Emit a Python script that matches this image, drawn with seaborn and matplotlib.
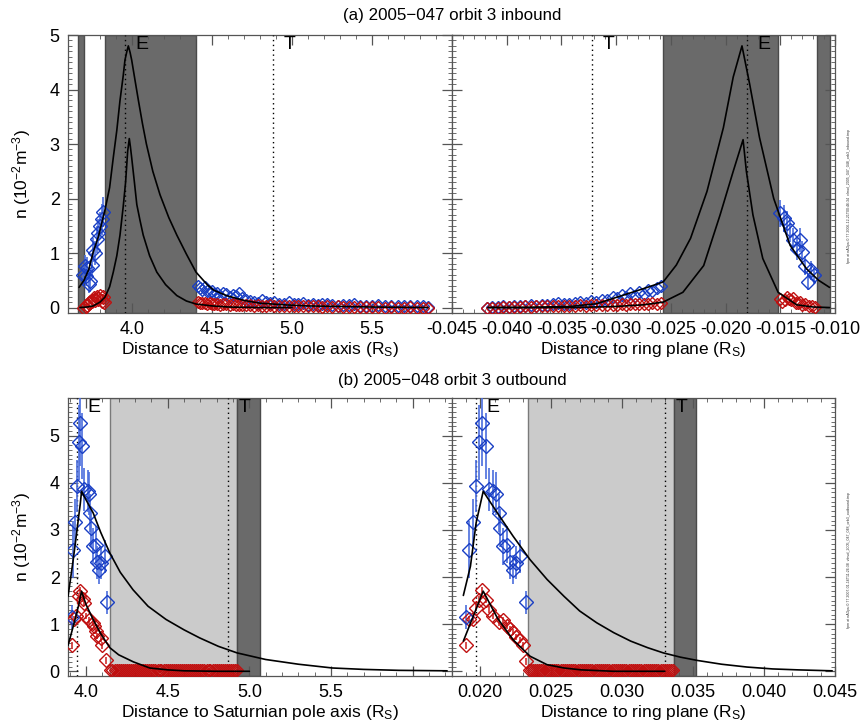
import matplotlib
matplotlib.use("Agg")
import matplotlib.pyplot as plt
import seaborn as sns
from matplotlib.ticker import MultipleLocator, FormatStrFormatter

# ---------------- data ----------------
# (a) inbound, distance to pole axis
tl_blue_x1 = [3.696, 3.706, 3.712, 3.717, 3.733, 3.737, 3.748, 3.758, 3.770, 3.779, 3.790, 3.800, 3.810, 3.820]
tl_blue_y1 = [0.59, 0.77, 0.57, 0.72, 0.44, 0.49, 0.78, 1.06, 1.00, 1.25, 1.37, 1.50, 1.62, 1.75]
tl_blue_e1 = [0.20, 0.20, 0.18, 0.20, 0.18, 0.20, 0.22, 0.22, 0.22, 0.25, 0.25, 0.25, 0.28, 0.28]
tl_red_x1 = [3.700, 3.710, 3.720, 3.730, 3.740, 3.750, 3.760, 3.770, 3.780, 3.790, 3.800, 3.810, 3.820, 3.828]
tl_red_y1 = [0.00, 0.03, 0.05, 0.08, 0.10, 0.12, 0.17, 0.14, 0.20, 0.15, 0.22, 0.12, 0.20, 0.10]
tl_blue_x2 = [4.410, 4.425, 4.440, 4.455, 4.470, 4.485, 4.500, 4.515, 4.530, 4.550, 4.570,
              4.590, 4.610, 4.630, 4.650, 4.670, 4.690, 4.715, 4.740, 4.765, 4.790, 4.815,
              4.840, 4.865, 4.890, 4.920, 4.950, 4.980, 5.010, 5.040, 5.070, 5.100, 5.130,
              5.160, 5.190, 5.220, 5.250, 5.285, 5.320, 5.355, 5.390, 5.425, 5.460, 5.500,
              5.540, 5.580, 5.620, 5.660, 5.700, 5.740, 5.780, 5.820, 5.850]
tl_blue_y2 = [0.40, 0.35, 0.33, 0.37, 0.30, 0.28, 0.31, 0.25, 0.27, 0.22, 0.26, 0.24,
              0.20, 0.23, 0.21, 0.26, 0.18, 0.14, 0.12, 0.11, 0.09, 0.13, 0.10, 0.09,
              0.11, 0.07, 0.06, 0.10, 0.07, 0.06, 0.09, 0.05, 0.06, 0.04, 0.06, 0.07,
              0.04, 0.03, 0.05, 0.04, 0.06, 0.03, 0.03, 0.02, 0.04, 0.02, 0.03, 0.03,
              0.02, 0.03, 0.02, 0.02, 0.01]
tl_red_y2 = [0.10, 0.09, 0.08, 0.09, 0.07, 0.08, 0.07, 0.06, 0.07, 0.05, 0.06, 0.06,
             0.05, 0.06, 0.05, 0.04, 0.05, 0.04, 0.04, 0.03, 0.04, 0.03, 0.03, 0.04,
             0.03, 0.03, 0.02, 0.03, 0.02, 0.03, 0.02, 0.02, 0.02, 0.02, 0.01, 0.02,
             0.01, 0.02, 0.01, 0.01, 0.01, 0.01, 0.01, 0.01, 0.01, 0.00, 0.01, 0.00,
             0.00, 0.01, 0.00, 0.00, 0.00]
tl_fit1_x = [3.669, 3.70, 3.73, 3.758, 3.79, 3.831, 3.86, 3.883, 3.905, 3.925, 3.945, 3.956,
             3.968, 3.977, 3.988, 3.998, 4.02, 4.04, 4.065, 4.09, 4.13, 4.175, 4.23, 4.28,
             4.34, 4.40, 4.47, 4.51, 4.59, 4.70, 4.80, 4.95, 5.10, 5.30, 5.50, 5.85]
tl_fit1_y = [0.37, 0.50, 0.70, 1.02, 1.30, 1.79, 2.20, 2.75, 3.25, 3.80, 4.25, 4.54,
             4.70, 4.80, 4.68, 4.54, 4.15, 3.80, 3.38, 3.00, 2.50, 2.07, 1.65, 1.33,
             0.98, 0.65, 0.42, 0.32, 0.22, 0.13, 0.08, 0.05, 0.03, 0.02, 0.01, 0.00]
tl_fit2_x = [3.675, 3.72, 3.758, 3.80, 3.831, 3.86, 3.883, 3.905, 3.925, 3.945, 3.960,
             3.973, 3.983, 3.990, 3.998, 4.015, 4.03, 4.05, 4.07, 4.11, 4.155, 4.21,
             4.28, 4.34, 4.40, 4.50, 4.60, 4.80, 5.00]
tl_fit2_y = [0.00, 0.01, 0.03, 0.10, 0.19, 0.38, 0.65, 0.95, 1.33, 1.85, 2.30,
             2.87, 3.10, 2.95, 2.75, 2.30, 1.89, 1.60, 1.33, 0.95, 0.65, 0.42,
             0.22, 0.12, 0.065, 0.03, 0.01, 0.00, 0.00]

# (a) inbound, distance to ring plane
tr_blue_x1 = [-0.0418, -0.0413, -0.0408, -0.0403, -0.0398, -0.0393, -0.0388, -0.0383,
              -0.0378, -0.0373, -0.0368, -0.0363, -0.0358, -0.0353, -0.0348, -0.0343,
              -0.0338, -0.0333, -0.0328, -0.0323, -0.0318, -0.0313, -0.0308, -0.0303,
              -0.0299, -0.0295, -0.0291, -0.0287, -0.0283, -0.0279, -0.0275, -0.0271,
              -0.0267, -0.0263, -0.0259]
tr_blue_y1 = [0.00, 0.01, 0.01, 0.02, 0.01, 0.02, 0.03, 0.02, 0.04, 0.03, 0.05, 0.04,
              0.06, 0.08, 0.06, 0.07, 0.09, 0.11, 0.08, 0.12, 0.10, 0.14, 0.13, 0.19,
              0.17, 0.23, 0.20, 0.26, 0.22, 0.29, 0.25, 0.33, 0.30, 0.36, 0.40]
tr_red_y1 = [0.00, 0.00, 0.00, 0.01, 0.01, 0.01, 0.01, 0.02, 0.01, 0.02, 0.02, 0.02,
             0.03, 0.02, 0.03, 0.03, 0.03, 0.04, 0.03, 0.04, 0.04, 0.05, 0.04, 0.05,
             0.05, 0.06, 0.05, 0.06, 0.06, 0.07, 0.06, 0.07, 0.08, 0.07, 0.08]
tr_blue_x2 = [-0.0150, -0.0147, -0.0144, -0.0141, -0.0138, -0.0135, -0.0132, -0.0130,
              -0.0127, -0.0125, -0.0122, -0.0119]
tr_blue_y2 = [1.73, 1.64, 1.55, 1.42, 1.24, 1.08, 1.24, 1.02, 0.77, 0.47, 0.68, 0.59]
tr_blue_e2 = [0.25, 0.25, 0.22, 0.22, 0.22, 0.20, 0.22, 0.20, 0.18, 0.15, 0.18, 0.15]
tr_red_x2 = [-0.0150, -0.0148, -0.0146, -0.0144, -0.0142, -0.0140, -0.0138, -0.0136,
             -0.0134, -0.0132, -0.0130, -0.0127, -0.0124, -0.0121, -0.0118]
tr_red_y2 = [0.15, 0.10, 0.13, 0.20, 0.16, 0.13, 0.18, 0.09, 0.08, 0.10, 0.05, 0.06,
             0.03, 0.02, 0.01]
tr_fit1_x = [-0.0417, -0.0379, -0.0342, -0.0318, -0.0293, -0.0270, -0.0257, -0.0245,
             -0.0232, -0.0217, -0.0202, -0.0193, -0.0185, -0.0178, -0.0169, -0.0156,
             -0.0141, -0.0126, -0.0115, -0.0105]
tr_fit1_y = [0.00, 0.005, 0.02, 0.07, 0.23, 0.38, 0.47, 0.78, 1.27, 2.13, 3.30, 4.23,
             4.80, 4.10, 3.12, 2.00, 1.14, 0.71, 0.50, 0.37]
tr_fit2_x = [-0.0417, -0.0340, -0.0300, -0.0275, -0.0257, -0.0239, -0.0220, -0.0205,
             -0.0193, -0.0184, -0.0181, -0.0175, -0.0166, -0.0152, -0.0135, -0.0120, -0.0105]
tr_fit2_y = [0.00, 0.00, 0.02, 0.05, 0.10, 0.28, 0.77, 1.70, 2.50, 3.08, 2.50, 1.70,
             0.90, 0.28, 0.05, 0.01, 0.00]

# (b) outbound, distance to pole axis
bl_blue_x = [3.912, 3.922, 3.935, 3.947, 3.955, 3.963, 3.978, 3.990, 4.010, 4.020,
             4.025, 4.030, 4.040, 4.060, 4.070, 4.080, 4.095, 4.115, 4.130]
bl_red_x = [3.912, 3.925, 3.940, 3.955, 3.965, 3.980, 3.990, 4.000, 4.020, 4.040,
            4.050, 4.060, 4.070, 4.090, 4.100, 4.120]
bl_red_y = [0.55, 1.11, 1.17, 1.59, 1.71, 1.54, 1.45, 1.17, 1.08, 1.03, 0.96, 0.86,
            0.75, 0.70, 0.55, 0.23]
bl_row_x = [4.150, 4.162, 4.175, 4.188, 4.200, 4.212, 4.225, 4.238, 4.250, 4.262, 4.275,
            4.288, 4.300, 4.312, 4.325, 4.338, 4.350, 4.362, 4.375, 4.388, 4.400, 4.412,
            4.425, 4.438, 4.450, 4.462, 4.475, 4.488, 4.500, 4.512, 4.525, 4.538, 4.550,
            4.562, 4.575, 4.588, 4.600, 4.612, 4.625, 4.638, 4.650, 4.662, 4.675, 4.688,
            4.700, 4.712, 4.725, 4.738, 4.750, 4.762, 4.775, 4.788, 4.800, 4.812, 4.825,
            4.838, 4.850, 4.862, 4.875, 4.888, 4.900, 4.912, 4.925]
bl_fit1_x = [3.89, 3.905, 3.922, 3.938, 3.953, 3.965, 3.973, 4.00, 4.044, 4.09, 4.146, 4.21,
             4.288, 4.38, 4.49, 4.60, 4.695, 4.81, 4.925, 5.10, 5.30, 5.508, 5.70, 5.914, 6.21]
bl_fit1_y = [1.59, 1.95, 2.37, 2.80, 3.22, 3.55, 3.82, 3.64, 3.36, 2.95, 2.51, 2.10,
             1.73, 1.38, 1.10, 0.88, 0.71, 0.53, 0.39, 0.25, 0.15, 0.07, 0.04, 0.02, 0.01]
bl_fit2_x = [3.89, 3.91, 3.933, 3.955, 3.973, 4.00, 4.044, 4.09, 4.146, 4.20, 4.29, 4.39,
             4.50, 4.60, 4.80, 5.00]
bl_fit2_y = [0.55, 0.80, 1.10, 1.40, 1.70, 1.42, 1.10, 0.80, 0.50, 0.35, 0.20, 0.07,
             0.03, 0.01, 0.00, 0.00]

# (b) outbound, distance to ring plane
br_blue_x = [0.0190, 0.0192, 0.0195, 0.0197, 0.0199, 0.0201, 0.0204, 0.0206, 0.0209,
             0.0211, 0.0213, 0.0214, 0.0216, 0.0219, 0.0221, 0.0223, 0.0225, 0.0228, 0.0232]
b_blue_y = [1.15, 2.58, 3.16, 3.94, 4.86, 5.26, 4.78, 3.86, 3.82, 3.77, 3.36, 3.04,
            2.65, 2.69, 2.31, 2.16, 2.30, 2.44, 1.46]
b_blue_e = [0.25, 0.60, 0.50, 0.55, 0.80, 0.90, 0.70, 0.45, 0.45, 0.45, 0.40, 0.40,
            0.40, 0.40, 0.35, 0.30, 0.35, 0.35, 0.25]
br_red_x = [0.0190, 0.0192, 0.0195, 0.0197, 0.0199, 0.0201, 0.0204, 0.0206, 0.0209,
            0.0213, 0.0216, 0.0219, 0.0221, 0.0223, 0.0225, 0.0228, 0.0230, 0.0232]
br_red_y = [0.55, 1.11, 1.10, 1.35, 1.52, 1.72, 1.52, 1.31, 1.17, 1.04, 1.08, 0.96,
            0.90, 0.83, 0.73, 0.66, 0.55, 0.21]
br_row_x = [0.02340, 0.02355, 0.02370, 0.02385, 0.02400, 0.02415, 0.02430, 0.02445,
            0.02460, 0.02475, 0.02490, 0.02505, 0.02520, 0.02535, 0.02550, 0.02565,
            0.02580, 0.02595, 0.02610, 0.02625, 0.02640, 0.02655, 0.02670, 0.02685,
            0.02700, 0.02715, 0.02730, 0.02745, 0.02760, 0.02775, 0.02790, 0.02805,
            0.02820, 0.02835, 0.02850, 0.02865, 0.02880, 0.02895, 0.02910, 0.02925,
            0.02940, 0.02955, 0.02970, 0.02985, 0.03000, 0.03015, 0.03030, 0.03045,
            0.03060, 0.03075, 0.03090, 0.03105, 0.03120, 0.03135, 0.03150, 0.03165,
            0.03180, 0.03195, 0.03210, 0.03225, 0.03240, 0.03255, 0.03270, 0.03285,
            0.03300, 0.03315, 0.03330, 0.03345, 0.03360]
br_fit1_x = [0.0188, 0.0193, 0.0197, 0.0202, 0.0212, 0.0223, 0.0235, 0.0247, 0.0259,
             0.0270, 0.0282, 0.0294, 0.0306, 0.0318, 0.0329, 0.0341, 0.0353, 0.0370,
             0.0388, 0.0406, 0.0424, 0.0448]
br_fit1_y = [1.61, 2.23, 3.15, 3.82, 3.36, 2.87, 2.37, 1.95, 1.59, 1.28, 1.03, 0.82,
             0.64, 0.50, 0.39, 0.30, 0.23, 0.15, 0.09, 0.05, 0.03, 0.01]
br_fit2_x = [0.0188, 0.0195, 0.0202, 0.0212, 0.0223, 0.0235, 0.0247, 0.0259, 0.0271,
             0.0294, 0.0330]
br_fit2_y = [0.64, 1.17, 1.70, 1.13, 0.67, 0.32, 0.14, 0.07, 0.03, 0.00, 0.00]

# shaded intervals and E / T crossings
tl_dark = [(3.664, 3.700), (3.831, 4.400)]
tr_dark = [(-0.0257, -0.0152), (-0.0116, -0.0105)]
bl_light, bl_dark = [(4.146, 4.927)], [(4.927, 5.067)]
br_light, br_dark = [(0.02337, 0.03363)], [(0.03363, 0.03519)]
tl_marks = {"E": 3.956, "T": 4.880}
tr_marks = {"T": -0.0322, "E": -0.0180}
bl_marks = {"E": 3.945, "T": 4.870}
br_marks = {"E": 0.0197, "T": 0.0330}

# ---------------- style ----------------
sns.set_theme(style="ticks")
plt.rcParams['font.family'] = ['Liberation Sans', 'DejaVu Sans']
plt.rcParams['mathtext.default'] = 'regular'
plt.rcParams['axes.linewidth'] = 0.9
plt.rcParams['axes.edgecolor'] = '#555555'
plt.rcParams['text.color'] = 'black'
plt.rcParams['axes.labelcolor'] = 'black'

BLUE, BLUE_E = '#1a3fc4', '#4a6ddd'
RED, RED_E = '#c01010', '#d03030'
DARK, LIGHT = '#6a6a6a', '#cbcbcb'
FS_TICK = 13
FS_LAB = 12.5

fig = plt.figure(figsize=(8.64, 7.27), dpi=100)
W, H = 864, 727


def box(x0, x1, ytop, ybot):
    return [x0 / W, 1 - ybot / H, (x1 - x0) / W, (ybot - ytop) / H]


ax_tl = fig.add_axes(box(68, 452, 35, 313))
ax_tr = fig.add_axes(box(452, 835, 35, 313))
ax_bl = fig.add_axes(box(68, 452, 398, 676))
ax_br = fig.add_axes(box(452, 835, 398, 676))


def points(ax, x, y, color, ecolor, err=None, ms=7):
    ax.errorbar(x, y, yerr=err, fmt='D', ms=ms, mfc='none', mec=color, mew=1.0,
                ecolor=ecolor, elinewidth=1.2, capsize=0, zorder=4)


def fit(ax, x, y):
    sns.lineplot(x=x, y=y, ax=ax, color='black', lw=1.2, estimator=None,
                 sort=False, zorder=5)


def bands(ax, spans, color, edge):
    for a, b in spans:
        ax.axvspan(a, b, facecolor=color, edgecolor=edge, lw=1.0, zorder=0)


def marks(ax, m):
    for lab, xv in m.items():
        ax.axvline(xv, color='black', ls=(0, (1, 2.5)), lw=1.0, zorder=3)
        ax.annotate(lab, (xv, 1.0), xycoords=('data', 'axes fraction'),
                    xytext=(12, -1), textcoords='offset points', color='black',
                    ha='center', va='top', fontsize=FS_TICK + 1, zorder=6)


def frame(ax, xlim, ylim, xticks, fmt, xminor, ylab):
    ax.set_xlim(*xlim)
    ax.set_ylim(*ylim)
    ax.set_xticks(xticks)
    ax.xaxis.set_major_formatter(FormatStrFormatter(fmt))
    ax.xaxis.set_minor_locator(MultipleLocator(xminor))
    ax.set_yticks([0, 1, 2, 3, 4, 5])
    ax.yaxis.set_minor_locator(MultipleLocator(0.1))
    ax.tick_params(which='both', direction='in', top=True, right=True,
                   labelsize=FS_TICK, colors='#555555', labelcolor='black', pad=6)
    ax.tick_params(which='major', length=7, width=0.9)
    ax.tick_params(which='minor', length=3, width=0.6)
    if not ylab:
        ax.tick_params(labelleft=False)
    ax.set_xlabel("")
    ax.set_ylabel("")


# ---- (a) left ----
bands(ax_tl, tl_dark, DARK, '#4a4a4a')
marks(ax_tl, tl_marks)
points(ax_tl, tl_red_x1, tl_red_y1, RED, RED_E, [0.04] * len(tl_red_x1))
points(ax_tl, tl_blue_x1, tl_blue_y1, BLUE, BLUE_E, tl_blue_e1)
points(ax_tl, tl_blue_x2, tl_blue_y2, BLUE, BLUE_E, ms=6)
points(ax_tl, tl_blue_x2, tl_red_y2, RED, RED_E, ms=6)
fit(ax_tl, tl_fit1_x, tl_fit1_y)
fit(ax_tl, tl_fit2_x, tl_fit2_y)
frame(ax_tl, (3.6, 6.0), (-0.1, 5.0), [4.0, 4.5, 5.0, 5.5], '%.1f', 0.1, True)

# ---- (a) right ----
bands(ax_tr, tr_dark, DARK, '#4a4a4a')
marks(ax_tr, tr_marks)
points(ax_tr, tr_blue_x1, tr_blue_y1, BLUE, BLUE_E, ms=6)
points(ax_tr, tr_blue_x1, tr_red_y1, RED, RED_E, ms=6)
points(ax_tr, tr_red_x2, tr_red_y2, RED, RED_E, ms=6.5)
points(ax_tr, tr_blue_x2, tr_blue_y2, BLUE, BLUE_E, tr_blue_e2)
fit(ax_tr, tr_fit1_x, tr_fit1_y)
fit(ax_tr, tr_fit2_x, tr_fit2_y)
frame(ax_tr, (-0.045, -0.010), (-0.1, 5.0),
      [-0.045, -0.040, -0.035, -0.030, -0.025, -0.020, -0.015, -0.010], '%.3f', 0.001, False)

# ---- (b) left ----
bands(ax_bl, bl_light, LIGHT, '#7a7a7a')
bands(ax_bl, bl_dark, DARK, '#4a4a4a')
marks(ax_bl, bl_marks)
points(ax_bl, bl_row_x, [0.02] * len(bl_row_x), RED, RED_E, ms=6)
points(ax_bl, bl_red_x, bl_red_y, RED, RED_E, [0.07] * len(bl_red_x))
points(ax_bl, bl_blue_x, b_blue_y, BLUE, BLUE_E, b_blue_e)
fit(ax_bl, bl_fit1_x, bl_fit1_y)
fit(ax_bl, bl_fit2_x, bl_fit2_y)
frame(ax_bl, (3.89, 6.24), (-0.1, 5.8), [4.0, 4.5, 5.0, 5.5, 6.0], '%.1f', 0.1, True)
ax_bl.set_xticklabels(['4.0', '4.5', '5.0', '5.5', ''])

# ---- (b) right ----
bands(ax_br, br_light, LIGHT, '#7a7a7a')
bands(ax_br, br_dark, DARK, '#4a4a4a')
marks(ax_br, br_marks)
points(ax_br, br_row_x, [0.02] * len(br_row_x), RED, RED_E, ms=6)
points(ax_br, br_red_x, br_red_y, RED, RED_E, [0.07] * len(br_red_x))
points(ax_br, br_blue_x, b_blue_y, BLUE, BLUE_E, b_blue_e)
fit(ax_br, br_fit1_x, br_fit1_y)
fit(ax_br, br_fit2_x, br_fit2_y)
frame(ax_br, (0.018, 0.045), (-0.1, 5.8),
      [0.020, 0.025, 0.030, 0.035, 0.040, 0.045], '%.3f', 0.001, False)

# ---- labels ----
for ax in (ax_tl, ax_bl):
    ax.set_xlabel(r"Distance to Saturnian pole axis (R$_S$)", fontsize=FS_LAB, labelpad=1)
    ax.set_ylabel(r"n (10$^{-2}$m$^{-3}$)", fontsize=FS_LAB, labelpad=12)
for ax in (ax_tr, ax_br):
    ax.set_xlabel(r"Distance to ring plane (R$_S$)", fontsize=FS_LAB, labelpad=1)

fig.text(0.523, 0.978, "(a) 2005\u2212047 orbit 3 inbound", ha='center', va='center', fontsize=12.2)
fig.text(0.523, 0.477, "(b) 2005\u2212048 orbit 3 outbound", ha='center', va='center', fontsize=12.2)
fig.text(0.983, 0.73, "fpm at nAGpu 0.77 2006-12-21T00:46:34  vlmol_2005_047_048_orb3_inbound.tmp",
         rotation=90, fontsize=2.6, color='#333333', ha='center', va='center')
fig.text(0.983, 0.23, "fpm at nAGpu 0.77 2007-01-16T11:26:38  vlmol_2005_047_048_orb3_outbound.tmp",
         rotation=90, fontsize=2.6, color='#333333', ha='center', va='center')

fig.savefig("out.png", dpi=100)
